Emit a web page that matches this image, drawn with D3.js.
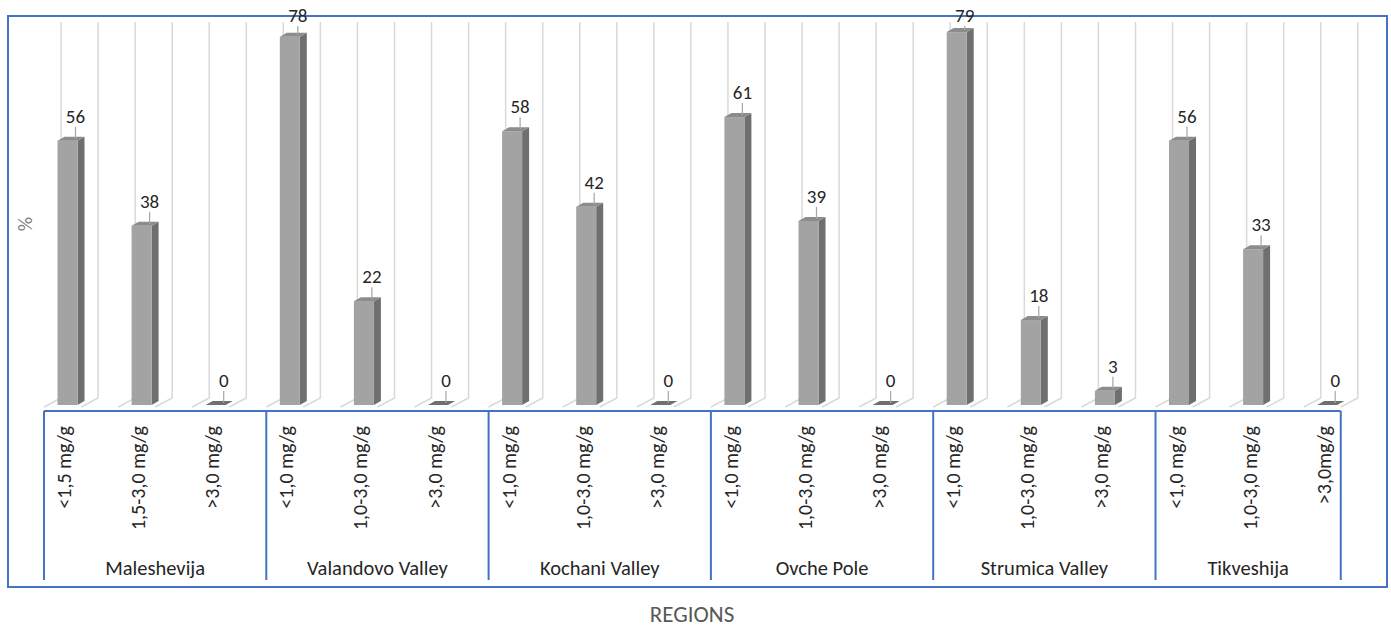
<!DOCTYPE html>
<html>
<head>
<meta charset="utf-8">
<script src="https://cdn.jsdelivr.net/npm/d3@7"></script>
<style>
  html, body { margin: 0; padding: 0; background: #ffffff; }
  svg { display: block; }
  text { font-family: Carlito, Calibri, Lato, "Liberation Sans", sans-serif; }
</style>
</head>
<body>
<svg id="chart" width="1391" height="627"></svg>
<script>
// ---- data ----
const regions = ["Maleshevija", "Valandovo Valley", "Kochani Valley", "Ovche Pole", "Strumica Valley", "Tikveshija"];
const categories = [
  "<1,5 mg/g", "1,5-3,0 mg/g", ">3,0 mg/g",
  "<1,0 mg/g", "1,0-3,0 mg/g", ">3,0 mg/g",
  "<1,0 mg/g", "1,0-3,0 mg/g", ">3,0 mg/g",
  "<1,0 mg/g", "1,0-3,0 mg/g", ">3,0 mg/g",
  "<1,0 mg/g", "1,0-3,0 mg/g", ">3,0 mg/g",
  "<1,0 mg/g", "1,0-3,0 mg/g", ">3,0mg/g"
];
const values = [56, 38, 0, 78, 22, 0, 58, 42, 0, 61, 39, 0, 79, 18, 3, 56, 33, 0];
const regionOf = [0,0,0, 1,1,1, 2,2,2, 3,3,3, 4,4,4, 5,5,5];
const yTitle = "%";
const xTitle = "REGIONS";

// ---- layout ----
const svg = d3.select("#chart");
const blue = "#4472c4";
const keys = categories.map((c, i) => i);

const x = d3.scaleBand().domain(keys).range([44, 44 + 18 * 74.1]).padding(0);
const bw = x.bandwidth();
const y = d3.scaleLinear().domain([0, 80]).range([405, 405 - 80 * 4.72]);

// outer border
svg.append("rect").attr("x", 8).attr("y", 16).attr("width", 1379).attr("height", 571)
  .attr("fill", "none").attr("stroke", blue).attr("stroke-width", 2);

// back-wall vertical gridlines with floor diagonals
const gridG = svg.append("g").attr("stroke", "#d9d9d9").attr("stroke-width", 1.5).attr("fill", "none");
const gridXs = [];
keys.forEach(k => { gridXs.push(x(k) + bw * 0.23); gridXs.push(x(k) + bw * 0.73); });
gridXs.forEach(gx => {
  gridG.append("path").attr("d", `M${gx},22 L${gx},398 L${gx - 17},407`);
});

// bars (3D-ish columns)
const depthX = 7, depthY = 4, frontW = 20;
const barG = svg.append("g");
keys.forEach(k => {
  const v = values[k];
  const x0 = x(k) + 13.5;
  const x1 = x0 + frontW;
  const yb = y(0), yt = y(v);
  if (v > 0) {
    barG.append("path")
      .attr("d", `M${x1},${yt} L${x1 + depthX},${yt - depthY} L${x1 + depthX},${yb - depthY} L${x1},${yb} Z`)
      .attr("fill", "#6f6f6f");
    barG.append("rect").attr("x", x0).attr("y", yt).attr("width", frontW).attr("height", yb - yt)
      .attr("fill", "#a3a3a3");
  }
  barG.append("path")
    .attr("d", `M${x0},${yt} L${x1},${yt} L${x1 + depthX},${yt - depthY} L${x0 + depthX},${yt - depthY} Z`)
    .attr("fill", v > 0 ? "#8c8c8c" : "#6f6f6f");
});

// value labels with leader lines
const lblG = svg.append("g");
keys.forEach(k => {
  const v = values[k];
  const cx = x(k) + 13.5 + 18;
  const yt = y(v) - depthY;
  const base = Math.max(yt - 14, 22);
  lblG.append("line").attr("x1", cx).attr("x2", cx).attr("y1", base + 4).attr("y2", yt + 2)
    .attr("stroke", "#a6a6a6").attr("stroke-width", 1.2);
  lblG.append("text").attr("x", cx).attr("y", base).attr("text-anchor", "middle")
    .attr("font-size", 19).attr("fill", "#262626").text(v);
});

// category axis: boxes
const axG = svg.append("g").attr("stroke", blue).attr("stroke-width", 2).attr("fill", "none");
const axisY = 411, boxBottom = 580;
const groupStarts = regions.map((r, gi) => x(keys.find(k => regionOf[k] === gi)));
const lastKey = keys[keys.length - 1];
const rightEdge = x(lastKey) + bw / 2;
axG.append("line").attr("x1", groupStarts[0]).attr("x2", rightEdge).attr("y1", axisY).attr("y2", axisY);
groupStarts.concat([rightEdge]).forEach(gx => {
  axG.append("line").attr("x1", gx).attr("x2", gx).attr("y1", axisY).attr("y2", boxBottom);
});

// category labels (rotated)
const catG = svg.append("g");
keys.forEach(k => {
  const cx = x(k) + 20;
  catG.append("text")
    .attr("transform", `translate(${cx},426) rotate(-90)`)
    .attr("text-anchor", "end").attr("dy", "0.35em")
    .attr("font-size", 20).attr("fill", "#262626")
    .text(categories[k]);
});

// region labels
regions.forEach((r, gi) => {
  const a = groupStarts[gi];
  const b = gi < regions.length - 1 ? groupStarts[gi + 1] : rightEdge;
  svg.append("text").attr("x", (a + b) / 2).attr("y", 575).attr("text-anchor", "middle")
    .attr("font-size", 20.5).attr("fill", "#262626").text(r);
});

// axis titles
svg.append("text").attr("x", 692).attr("y", 622).attr("text-anchor", "middle")
  .attr("font-size", 23).attr("fill", "#595959").text(xTitle);
svg.append("text").attr("transform", "translate(25,224) rotate(-90)")
  .attr("text-anchor", "middle").attr("dy", "0.35em")
  .attr("font-size", 20).attr("fill", "#7f7f7f").text(yTitle);
</script>
</body>
</html>
